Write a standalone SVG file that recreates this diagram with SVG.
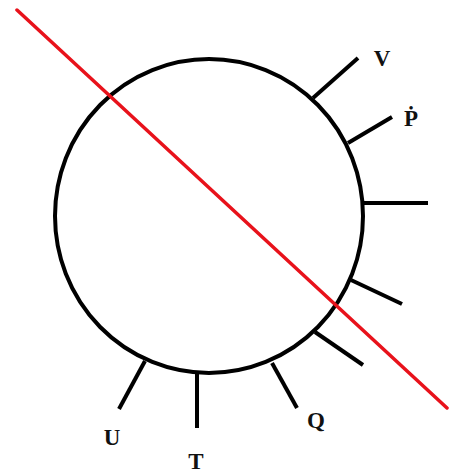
<svg xmlns="http://www.w3.org/2000/svg" width="449" height="474" viewBox="0 0 449 474">
<style>
.c{fill:none;stroke:#000;stroke-width:4}
.s{stroke:#000;stroke-width:4;stroke-linecap:butt}
.r{stroke:#e8121b;stroke-width:3.5;stroke-linecap:round}
.t{font-family:"Liberation Serif",serif;font-weight:bold;font-size:23px;fill:#111;text-anchor:middle}
</style>
<rect width="449" height="474" fill="#fff"/>
<g id="circle"><ellipse class="c" cx="209" cy="216" rx="154" ry="157"/></g>
<g id="connectors">
<line class="s" x1="313" y1="98" x2="358" y2="58"/>
<line class="s" x1="348" y1="143" x2="392" y2="117"/>
<line class="s" x1="362" y1="203" x2="428" y2="203"/>
<line class="s" x1="351" y1="280" x2="402" y2="304"/>
<line class="s" x1="315" y1="332" x2="363" y2="365"/>
<line class="s" x1="272" y1="363" x2="297" y2="408"/>
<line class="s" x1="197" y1="372" x2="197" y2="428"/>
<line class="s" x1="145" y1="361" x2="119" y2="409"/>
</g>
<g id="redline"><line class="r" x1="17" y1="10" x2="447" y2="408"/></g>
<g id="V"><text class="t" x="382" y="66">V</text></g>
<g id="P"><text class="t" x="411" y="126">Ṗ</text></g>
<g id="Q"><text class="t" x="316" y="428">Q</text></g>
<g id="T"><text class="t" x="196" y="469">T</text></g>
<g id="U"><text class="t" x="112" y="445">U</text></g>
</svg>
